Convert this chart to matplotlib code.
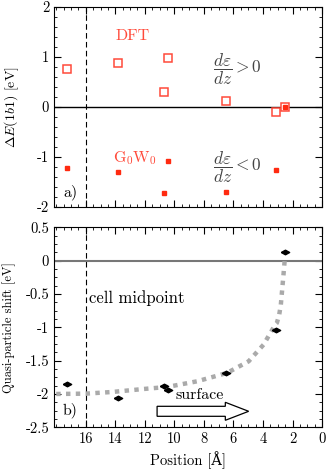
import matplotlib
matplotlib.use("Agg")
import matplotlib.pyplot as plt
from matplotlib.ticker import MultipleLocator, FixedLocator, FuncFormatter
from matplotlib.patches import FancyArrow

plt.rcParams['font.family'] = ['cmr10', 'DejaVu Serif']
plt.rcParams['mathtext.fontset'] = 'cm'
plt.rcParams['axes.unicode_minus'] = False
plt.rcParams['axes.formatter.use_mathtext'] = False

# positions of the molecule [Angstrom]
pos = [17.3, 13.8, 10.4, 10.7, 6.53, 3.15, 2.48]
dft = [0.76, 0.89, 0.99, 0.30, 0.13, -0.09, 0.00]
g0w0 = [-1.21, -1.29, -1.08, -1.71, -1.69, -1.26, 0.00]

# quasi-particle shift
qp_pos = [17.3, 13.8, 10.7, 10.4, 6.5, 3.15, 2.48]
qp_shift = [-1.845, -2.06, -1.875, -1.935, -1.685, -1.035, 0.13]

# fitted curve
fit_pos = [18.0, 16.0, 14.2, 12.07, 10.49, 8.46, 6.44, 4.97, 3.96, 3.17,
           3.06, 2.9, 2.79, 2.68, 2.61, 2.55, 2.5]
fit_val = [-2.00, -1.995, -1.97, -1.925, -1.895, -1.81, -1.685, -1.51, -1.26, -0.96,
           -0.935, -0.81, -0.66, -0.385, -0.21, -0.05, 0.065]

x_ticks = [0, 2, 4, 6, 8, 10, 12, 14, 16]
midpoint = 16.0
red_open = '#ff4a3a'
red_fill = '#ff2a10'
fmt = FuncFormatter(lambda v, p: '%g' % v)

fig = plt.figure(figsize=(3.32, 4.72), dpi=100)
ax1 = fig.add_axes([0.1627, 0.5614, 0.8073, 0.4236])
ax2 = fig.add_axes([0.1627, 0.0947, 0.8073, 0.4237])

for ax in (ax1, ax2):
    ax.set_xlim(18.15, 0)
    ax.axvline(midpoint, color='black', lw=0.8, dashes=(5, 3))
    ax.xaxis.set_major_locator(FixedLocator(x_ticks))
    ax.xaxis.set_minor_locator(MultipleLocator(0.5))
    ax.tick_params(which='both', direction='in', top=True, right=True, labelsize=10.5)
    ax.tick_params(which='major', length=5, width=0.8)
    ax.tick_params(which='minor', length=2.5, width=0.6)
    ax.yaxis.set_major_formatter(fmt)
    ax.xaxis.set_major_formatter(fmt)

# panel a)
ax1.set_ylim(-2, 2)
ax1.yaxis.set_major_locator(MultipleLocator(1))
ax1.yaxis.set_minor_locator(MultipleLocator(0.2))
ax1.tick_params(labelbottom=False)
ax1.axhline(0, color='black', lw=1)
ax1.plot(pos, dft, 's', ms=6, mfc='white', mec=red_open, mew=1.1, ls='none')
ax1.plot(pos, g0w0, 's', ms=3, color=red_fill, ls='none')
ax1.text(13.99, 1.41, 'DFT', color=red_open, fontsize=11.5, ha='left', va='center')
ax1.text(14.15, -1.02, r'G$_0$W$_0$', color=red_open, fontsize=11.5, ha='left', va='center')
ax1.text(7.4, 0.76, r'$\dfrac{d\varepsilon}{dz} > 0$', color='#444444', fontsize=12.5,
         ha='left', va='center')
ax1.text(7.4, -1.2, r'$\dfrac{d\varepsilon}{dz} < 0$', color='#444444', fontsize=12.5,
         ha='left', va='center')
ax1.text(17.55, -1.7, 'a)', fontsize=11.5, ha='left', va='center')
ax1.set_ylabel(r'$\Delta E(1b1)$ [eV]', fontsize=10)
ax1.yaxis.set_label_coords(-0.125, 0.5)

# panel b)
ax2.set_ylim(-2.5, 0.5)
ax2.yaxis.set_major_locator(MultipleLocator(0.5))
ax2.yaxis.set_minor_locator(MultipleLocator(0.125))
ax2.axhline(0, color='#777777', lw=1.5)
ax2.plot(fit_pos, fit_val, color='#aaaaaa', lw=3.2, dashes=(1, 1.2), dash_capstyle='butt')
diamond = [(-1, 0), (0, 0.55), (1, 0), (0, -0.55), (-1, 0)]
ax2.plot(qp_pos, qp_shift, ls='none', marker=diamond, ms=6, color='black')
ax2.add_patch(FancyArrow(11.17, -2.26, -6.2, 0, width=0.15, head_width=0.27,
                         head_length=1.58, length_includes_head=True,
                         fc='white', ec='black', lw=0.9))
ax2.text(9.9, -2.02, 'surface', fontsize=11.5, ha='left', va='center')
ax2.text(15.75, -0.56, 'cell midpoint', fontsize=12, ha='left', va='center')
ax2.text(17.55, -2.25, 'b)', fontsize=11.5, ha='left', va='center')
ax2.set_ylabel('Quasi-particle shift [eV]', fontsize=9)
ax2.yaxis.set_label_coords(-0.14, 0.5)
ax2.set_xlabel('Position [Å]', fontsize=10.5)

fig.savefig('out.png', dpi=100)
